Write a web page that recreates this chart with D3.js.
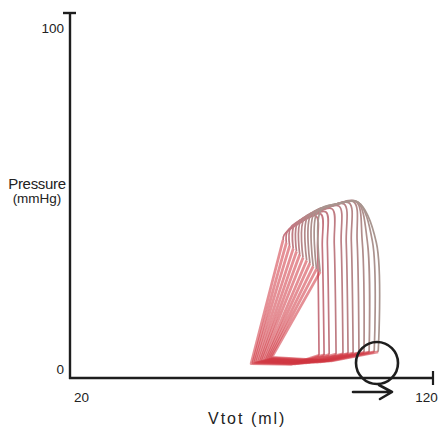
<!DOCTYPE html>
<html>
<head>
<meta charset="utf-8">
<script src="https://cdn.jsdelivr.net/npm/d3@7"></script>
<style>
  html, body { margin: 0; padding: 0; background: #fff; }
  svg { display: block; }
  text { font-family: "Liberation Sans", Arial, sans-serif; fill: #222; }
</style>
</head>
<body>
<div id="chart"></div>
<script>
// axis ticks
var xTicks = [20, 120];
var yTicks = [0, 100];

// one entry per loop (12 loops, left to right), volume in ml, pressure in mmHg
// bottom-left corner (start of filling)
var minV  = [69.9, 70.4, 70.9, 71.4, 72.0, 72.5, 73.0, 73.6, 74.1, 74.6, 75.1, 75.6];
var minP  = [3.6, 3.8, 4.0, 4.1, 4.3, 4.4, 4.6, 4.7, 4.9, 5.0, 5.2, 5.4];
// bottom middle
var botV  = [81, 82, 83, 84, 85, 86, 87, 88, 89, 90, 91, 92];
var botP  = [3.4, 3.5, 3.6, 3.7, 3.8, 3.9, 4.0, 4.0, 4.1, 4.2, 4.3, 4.4];
// bottom-right corner (end diastole)
var edV   = [88.6, 90.0, 91.4, 93.3, 95.2, 96.6, 98.0, 99.6, 101.0, 102.4, 103.8, 104.9];
var edP   = [6.0, 6.1, 6.2, 6.3, 6.4, 6.5, 6.6, 6.7, 6.8, 6.9, 7.0, 7.0];
// right shoulder
var shV   = [88.2, 89.5, 90.9, 92.8, 94.7, 96.1, 97.5, 99.1, 100.5, 101.9, 103.3, 104.4];
var shP   = [37, 37.5, 38, 38, 38.5, 38.5, 39, 39, 39, 39, 39, 38.5];
// top-right corner (peak)
var pkV   = [87.8, 89.1, 90.5, 92.2, 94.1, 95.5, 96.9, 98.2, 98.8, 99.1, 99.3, 99.3];
var pkP   = [46.2, 46.8, 47.4, 48.3, 49.1, 49.7, 50.0, 50.3, 50.4, 50.3, 50.3, 50.2];
// top middle
var tmV   = [83.4, 84.5, 85.7, 87.0, 88.4, 89.6, 90.7, 91.9, 92.6, 93.2, 93.8, 94.3];
var tmP   = [44.3, 45.2, 46.0, 46.8, 47.5, 48.1, 48.6, 49.0, 49.4, 49.5, 49.8, 49.9];
// top-left corner (end of ejection)
var tlV   = [79.0, 79.9, 80.8, 81.8, 82.7, 83.6, 84.5, 85.5, 86.4, 87.3, 88.2, 89.2];
var tlP   = [40.8, 41.9, 42.9, 43.6, 44.3, 44.9, 45.5, 46.1, 46.7, 47.1, 47.6, 48.1];
// kink where the left side turns into the diagonal relaxation limb
var kV    = [78.7, 79.6, 80.5, 81.5, 82.4, 83.3, 84.2, 85.2, 86.1, 87.0, 87.9, 88.9];
var kP    = [39.3, 38.5, 37.6, 36.8, 36.0, 35.1, 34.2, 33.4, 32.6, 31.7, 30.9, 30.1];

var width = 440, height = 427;

var svg = d3.select("#chart").append("svg")
			.attr("width", width)
			.attr("height", height);

svg.append("rect")
	.attr("width", width)
	.attr("height", height)
	.attr("fill", "#fff");

var x = d3.scaleLinear().domain([20, 120]).range([70, 433]);
var y = d3.scaleLinear().domain([0, 100]).range([376, 30]);

  ////////////////
 ///LOOPS////////
////////////////
var loops = d3.range(minV.length).map(function(i){
	return {
		// bottom-right, up the right side, along the top, down the left side
		upper: [[edV[i], edP[i]], [shV[i], shP[i]], [pkV[i], pkP[i]], [tmV[i], tmP[i]], [tlV[i], tlP[i]], [kV[i], kP[i]]],
		// diagonal limb down to the corner, then filling along the bottom
		lower: [[kV[i], kP[i]], [minV[i], minP[i]], [botV[i], botP[i]], [edV[i], edP[i]]]
	};
});

var upperLine = d3.line()
	.x(function(d){ return x(d[0]); })
	.y(function(d){ return y(d[1]); })
	.curve(d3.curveCatmullRom.alpha(0.5));

var lowerLine = d3.line()
	.x(function(d){ return x(d[0]); })
	.y(function(d){ return y(d[1]); })
	.curve(d3.curveLinear);

var loopG = svg.append("g").attr("class", "loops");

loopG.selectAll("path.upper")
	.data(loops)
	.enter().append("path")
	.attr("class", "upper")
	.attr("d", function(d){ return upperLine(d.upper); })
	.attr("fill", "none")
	.attr("stroke", function(d, i){ return d3.interpolateRgb("#c7737f", "#a8958f")(i / (loops.length - 1)); })
	.attr("stroke-width", 1.7);

loopG.selectAll("path.lower")
	.data(loops)
	.enter().append("path")
	.attr("class", "lower")
	.attr("d", function(d){ return lowerLine(d.lower); })
	.attr("fill", "none")
	.attr("stroke", "#d0343f")
	.attr("stroke-opacity", 0.55)
	.attr("stroke-width", 2.8)
	.attr("stroke-linejoin", "round");

  ////////////////
 ///AXES/////////
////////////////
var axisColor = "#1e1e1e";

// y axis line with cap
svg.append("line")
	.attr("x1", 70).attr("y1", 13)
	.attr("x2", 70).attr("y2", 379)
	.attr("stroke", axisColor)
	.attr("stroke-width", 2.4);
svg.append("line")
	.attr("x1", 63).attr("y1", 13)
	.attr("x2", 76).attr("y2", 13)
	.attr("stroke", axisColor)
	.attr("stroke-width", 2.4);

// x axis line with cap
svg.append("line")
	.attr("x1", 69).attr("y1", 378)
	.attr("x2", 433).attr("y2", 378)
	.attr("stroke", axisColor)
	.attr("stroke-width", 2.4);
svg.append("line")
	.attr("x1", 433).attr("y1", 371)
	.attr("x2", 433).attr("y2", 385)
	.attr("stroke", axisColor)
	.attr("stroke-width", 2.2);

// tick labels only
var yAxis = svg.append("g")
	.attr("transform", "translate(70,0)")
	.call(d3.axisLeft(y).tickValues(yTicks).tickSize(0).tickPadding(6));
yAxis.select(".domain").remove();
yAxis.selectAll("text")
	.attr("dy", function(d){ return d === 0 ? "-0.2em" : "0.15em"; })
	.style("font-size", "13.5px")
	.style("font-family", "'Liberation Sans', Arial, sans-serif")
	.attr("fill", "#222");

var xAxis = svg.append("g")
	.attr("transform", "translate(0,378)")
	.call(d3.axisBottom(x).tickValues(xTicks).tickSize(0).tickPadding(14));
xAxis.select(".domain").remove();
xAxis.selectAll("text")
	.attr("dx", function(d){ return d === 20 ? 11 : -7; })
	.style("font-size", "13.5px")
	.style("font-family", "'Liberation Sans', Arial, sans-serif")
	.attr("fill", "#222");

// axis titles
svg.append("text")
	.attr("x", 37)
	.attr("y", 189)
	.attr("text-anchor", "middle")
	.style("font-size", "15px")
	.style("letter-spacing", "-0.3px")
	.text("Pressure");
svg.append("text")
	.attr("x", 37)
	.attr("y", 203)
	.attr("text-anchor", "middle")
	.style("font-size", "13.5px")
	.text("(mmHg)");
svg.append("text")
	.attr("x", 208)
	.attr("y", 424)
	.style("font-size", "16px")
	.style("letter-spacing", "2px")
	.text("Vtot (ml)");

  ////////////////
 ///MARKER///////
////////////////
svg.append("circle")
	.attr("cx", 377)
	.attr("cy", 363)
	.attr("r", 21)
	.attr("fill", "none")
	.attr("stroke", "#1e1e1e")
	.attr("stroke-width", 2.6);

svg.append("path")
	.attr("d", "M353,392L391,392M379,385L392,392L380,399")
	.attr("fill", "none")
	.attr("stroke", "#1e1e1e")
	.attr("stroke-width", 2.6)
	.attr("stroke-linecap", "round")
	.attr("stroke-linejoin", "round");
</script>
</body>
</html>
